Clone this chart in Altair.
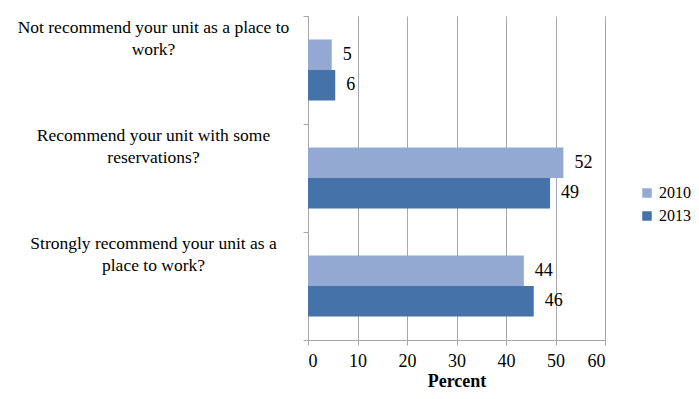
import altair as alt
import pandas as pd

categories = [
    "Not recommend your unit as a place to|work?",
    "Recommend your unit with some|reservations?",
    "Strongly recommend your unit as a|place to work?",
]
years = ["2010", "2013"]
values_2010 = [4.8, 51.6, 43.6]
values_2013 = [5.5, 48.9, 45.6]
colors = ["#94A9D1", "#4572A8"]

rows = []
for c, v in zip(categories, values_2010):
    rows.append({"q": c, "year": "2010", "pct": v})
for c, v in zip(categories, values_2013):
    rows.append({"q": c, "year": "2013", "pct": v})
df = pd.DataFrame(rows)

FONT = "Liberation Serif"

y_enc = alt.Y(
    "q:N", sort=categories, title=None,
    scale=alt.Scale(paddingInner=0, paddingOuter=0),
    axis=alt.Axis(
        tickBand="extent", tickSize=5, tickColor="#A6A6A6", domainColor="#A6A6A6",
        labelAlign="center", labelPadding=150, labelOffset=-43, labelLimit=400,
        labelFont=FONT, labelFontSize=17.5, labelColor="black",
        labelExpr="split(datum.label, '|')", labelLineHeight=22, labelBaseline="middle",
    ),
)
yoff_enc = alt.YOffset("year:N", sort=years,
                       scale=alt.Scale(paddingInner=0, paddingOuter=0.77))
x_enc = alt.X(
    "pct:Q", title="Percent",
    scale=alt.Scale(domain=[0, 60], nice=False),
    axis=alt.Axis(
        values=[0, 10, 20, 30, 40, 50, 60], grid=True, gridColor="#A6A6A6",
        tickColor="#A6A6A6", domainColor="#A6A6A6", tickSize=5,
        labelFont=FONT, labelFontSize=18, labelColor="black", labelPadding=7,
        titleFont=FONT, titleFontSize=18, titleFontWeight="bold", titleColor="black",
        titlePadding=2,
    ),
)

bars = alt.Chart(df).mark_bar().encode(
    y=y_enc, yOffset=yoff_enc, x=x_enc,
    color=alt.Color("year:N", sort=years,
                    scale=alt.Scale(domain=years, range=colors),
                    legend=alt.Legend(
                        title=None, orient="none", legendX=331, legendY=169,
                        symbolType="square", symbolSize=90, symbolStrokeWidth=0,
                        labelFont=FONT, labelFontSize=16, labelColor="black",
                        labelOffset=4, rowPadding=7,
                    )),
)
labels = alt.Chart(df).mark_text(
    align="left", baseline="middle", dx=11, font=FONT, fontSize=18, color="black"
).encode(
    y=alt.Y("q:N", sort=categories), yOffset=alt.YOffset("year:N", sort=years), x="pct:Q",
    text=alt.Text("pct:Q", format=".0f"),
)

chart = alt.layer(bars, labels).properties(
    width=297, height=324,
    autosize=alt.AutoSizeParams(type="none"),
    padding={"left": 300, "top": 8, "right": 86, "bottom": 51},
).configure_view(stroke=None)

chart.save("out.html", embed_options={"renderer": "svg", "actions": False})
